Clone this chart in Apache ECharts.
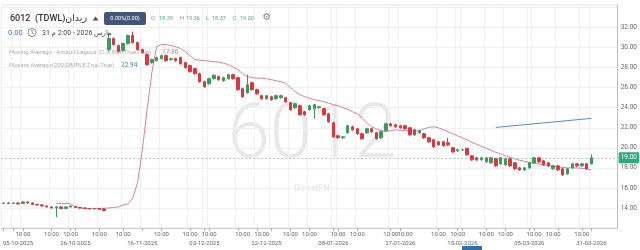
<!DOCTYPE html>
<html><head><meta charset="utf-8">
<script src="https://cdn.jsdelivr.net/npm/echarts@6/dist/echarts.min.js"></script>
<style>html,body{margin:0;padding:0;background:#fff}#c{width:640px;height:250px}</style>
</head><body><div id="c"></div>
<script>
// OHLC as [open, close, low, high]
const candles = [
[14.45,14.5,14.4,14.55],[14.5,14.45,14.4,14.55],[14.45,14.5,14.4,14.55],[14.5,14.4,14.35,14.55],[14.45,14.6,14.4,14.65],
[14.6,14.5,14.45,14.65],[14.5,14.35,14.3,14.55],[14.35,14.3,14.25,14.4],[14.3,14.2,14.15,14.35],[14.2,14.1,14.05,14.25],
[14.1,14.0,13.95,14.15],[14.0,14.1,13.1,14.2],[14.1,13.95,13.9,14.15],[13.95,14.1,13.9,14.15],[14.1,14.2,14.05,14.25],
[14.15,14.05,14.0,14.2],[14.05,14.0,13.95,14.1],[14.0,13.95,13.9,14.05],[13.95,13.9,13.85,14.0],[13.9,13.95,13.85,14.0],
[13.95,13.85,13.8,14.0],[13.9,13.75,13.7,13.95],
[29.8,30.9,29.6,31.5],[30.9,30.3,30.2,31.0],[30.2,29.6,29.5,30.3],[29.7,30.4,29.6,30.5],[30.4,31.2,30.3,31.3],
[31.2,30.5,30.4,31.6],[30.5,29.8,29.7,30.6],[29.8,29.5,29.4,29.9],[29.3,28.3,28.2,29.4],[28.5,28.8,28.4,28.9],
[28.7,29.0,28.6,29.1],[28.9,29.2,28.8,29.3],[29.2,28.7,28.6,29.3],[28.8,28.9,28.7,29.0],[28.9,28.7,28.6,29.0],
[29.0,28.4,28.3,29.1],[28.5,28.0,27.9,28.6],[28.2,27.6,27.5,28.3],[27.9,27.4,27.3,28.0],[27.4,26.6,26.5,27.5],
[26.6,26.1,26.0,26.7],[26.4,26.9,26.3,27.0],[26.9,27.25,26.8,27.3],[27.1,26.8,26.7,27.2],[26.7,27.0,26.6,27.1],
[26.9,27.3,26.8,27.4],[27.3,26.9,26.8,27.4],[27.0,25.8,25.7,27.1],[25.9,25.1,25.0,26.0],[25.5,26.3,25.4,27.3],
[26.5,25.8,25.7,26.6],[25.8,25.4,25.3,25.9],[25.2,24.9,24.8,25.3],[24.9,25.2,24.8,25.3],[25.1,24.8,24.7,25.2],
[24.9,25.2,24.8,25.3],[25.0,25.2,24.9,25.3],[25.0,24.6,24.5,25.1],[24.5,23.8,23.7,24.6],[24.0,24.4,23.9,24.5],
[24.2,23.3,23.2,24.3],[23.6,23.3,23.2,23.7],[23.8,24.2,23.7,24.3],[23.9,24.3,22.9,24.4],[24.0,24.1,23.9,24.2],
[23.9,23.3,23.2,24.0],[23.4,22.6,22.5,23.5],[22.5,21.1,21.0,22.6],[21.2,21.0,20.9,21.3],[21.0,21.1,20.9,21.2],
[21.5,22.2,21.4,22.3],[22.1,21.8,21.7,22.2],[21.9,21.4,21.3,22.0],[21.4,20.9,20.8,21.5],[21.5,21.9,21.4,22.0],
[21.9,21.6,21.5,22.0],[21.5,20.9,20.8,21.6],[21.0,21.6,20.9,21.7],[21.7,22.4,21.6,22.5],[22.4,22.2,22.1,22.5],
[22.3,22.1,22.0,22.4],[22.2,22.0,21.9,22.3],[22.2,21.9,21.8,22.3],[22.0,21.3,21.2,22.1],[21.8,21.3,21.2,21.9],
[21.5,21.7,21.4,21.8],[21.4,21.0,20.9,21.5],[21.0,20.6,20.5,21.1],[20.8,20.1,20.0,20.9],[20.6,20.3,20.2,20.7],
[20.6,20.2,20.1,20.7],[20.5,20.3,20.2,21.0],[20.0,19.6,19.5,20.1],[19.7,19.8,19.6,19.9],[19.8,19.8,19.7,19.9],
[19.95,19.3,19.2,20.0],[19.2,18.8,18.7,19.3],[19.0,18.8,18.7,19.1],[18.8,19.0,18.7,19.1],[18.6,19.0,18.5,19.1],
[18.5,19.0,18.4,19.1],[18.9,18.2,18.1,19.0],[18.4,19.0,18.3,19.1],[18.3,18.9,18.2,19.0],[18.9,18.2,18.1,19.0],
[18.5,17.9,17.8,18.6],[18.0,17.8,17.7,18.1],[17.8,18.0,17.7,18.1],[18.0,18.5,17.9,18.6],[18.5,19.0,18.4,19.1],
[19.0,18.6,18.5,19.1],[18.7,18.3,18.2,18.8],[18.5,18.2,18.1,18.6],[17.9,18.2,17.8,18.3],[18.2,17.8,17.7,18.3],
[17.9,17.3,17.2,18.0],[17.4,17.9,17.3,18.0],[18.0,18.4,17.9,18.5],[18.4,18.2,18.1,18.5],[18.2,18.4,18.1,18.5],
[18.4,17.9,17.8,18.5],[18.39,19.0,18.37,19.36]
];
// Arnaud Legoux moving average (pink)
const almaValues = [
null,null,null,null,null,null,null,null,null,null,null,
14.45,14.45,14.45,14.42,14.1,14.0,13.95,13.95,13.95,13.95,13.98,14.0,14.05,14.1,14.3,
14.4,15.0,16.5,19.8,23.8,27.5,30.1,30.3,30.3,30.2,30.1,29.9,29.6,29.2,28.8,28.75,
28.7,28.65,28.6,28.55,28.45,28.3,28.05,27.8,27.4,27.1,27.0,26.95,26.95,26.9,26.8,26.7,26.6,26.45,
26.0,25.6,25.3,25.1,24.95,24.8,24.7,24.6,24.45,24.3,24.2,24.0,23.85,23.6,23.4,23.0,22.5,22.1,21.9,21.7,
21.65,21.7,21.8,21.75,21.7,21.7,21.65,21.7,21.9,22.05,22.1,22.0,21.8,21.6,21.4,21.2,21.0,20.8,20.55,20.35,
20.15,19.95,19.75,19.55,19.4,19.2,19.05,18.9,18.75,18.65,18.55,18.45,18.4,18.3,18.25,18.2,18.1,18.05,18.0,18.0,
18.0,17.95,17.9,17.8
];
// 200 simple moving average (blue), starts at index 103
const smaStart = 103;
const smaValues = [22.04,22.08,22.13,22.17,22.22,22.26,22.31,22.35,22.40,22.44,22.49,22.53,22.58,22.62,22.67,22.71,22.76,22.80,22.85,22.89,22.94];
const padCount = 5;
const timeTickIdx = [0,2,4,10,14,15,20,25,29,33,39,42,43,49,53,56,60,64,69,70,74,81,83,91,95,96,101,105,110,111,116,121,123];
const timeLabelIdx = [1,4,10,14,20,25,33,39,43,50,54,60,64,70,74,81,84,91,95,101,105,111,115,121];
const timeLabelText = '10:00';
const dateLabelIdx = [3,15,29,42,55,69,83,96,110,123];
const dateLabels = ['05-10-2025','26-10-2025','16-11-2025','03-12-2025','22-12-2025','08-01-2026','27-01-2026','15-02-2026','05-03-2026','31-03-2026'];
const lastClose = 19.00, almaLast = 17.80, smaLast = 22.94;
const ohlc = {O:'18.39',H:'19.36',L:'18.37',C:'19.00'};

const total = candles.length + padCount;
const categories = Array.from({length: total}, (_, i) => String(i));
const smaSeries = categories.map((_, i) => (i >= smaStart && i - smaStart < smaValues.length) ? smaValues[i - smaStart] : null);
const almaSeries = categories.map((_, i) => i < almaValues.length ? almaValues[i] : null);
const tickSet = new Set(timeTickIdx), labSet = new Set(timeLabelIdx), dateSet = new Set(dateLabelIdx);
const FONT = 'Roboto, "Open Sans", "DejaVu Sans", sans-serif';

const chart = echarts.init(document.getElementById('c'), null, {renderer:'canvas'});
function badge(val, bg){
  return {yAxis: val, label:{show:true, position:'end', distance:1, formatter: val.toFixed(2), color:'#fff', backgroundColor:bg, fontSize:6.5, fontFamily:FONT, padding:[2,2,2,2], borderRadius:1}};
}
chart.setOption({
  animation:false,
  textStyle:{fontFamily:FONT},
  grid:{left:0, right:20, top:5, bottom:22, show:true, borderColor:'#e4e4e4', borderWidth:1},
  xAxis:[{
    type:'category', data:categories, boundaryGap:true,
    axisLine:{show:true, lineStyle:{color:'#cfcfcf'}},
    axisTick:{show:true, alignWithLabel:true, length:3, lineStyle:{color:'#aaa'}, interval:(i)=>tickSet.has(i)},
    axisLabel:{show:true, interval:(i)=>labSet.has(i), formatter:()=>timeLabelText, fontSize:6, color:'#666', margin:3, hideOverlap:false, fontFamily:FONT},
    splitLine:{show:true, interval:(i)=>tickSet.has(i), lineStyle:{color:'#f0f0f0'}}
  },{
    type:'category', data:categories, boundaryGap:true, position:'bottom', offset:9,
    axisLine:{show:false}, axisTick:{show:false}, splitLine:{show:false},
    axisLabel:{show:true, interval:(i)=>dateSet.has(i), formatter:(v,i)=>{const k=dateLabelIdx.indexOf(i);return k>=0?dateLabels[k]:'';}, fontSize:6, color:'#666', margin:3, hideOverlap:false, fontFamily:FONT}
  }],
  yAxis:{
    type:'value', position:'right', min:12, max:34.25, interval:2, scale:false,
    axisLine:{show:true, lineStyle:{color:'#bdbdbd'}},
    axisTick:{show:false},
    axisLabel:{fontSize:6.5, color:'#666', margin:3, showMaxLabel:false, fontFamily:FONT,
      formatter:(v)=> (v<13||v>33)?'':v.toFixed(2)},
    splitLine:{show:true, lineStyle:{color:'#efefef'}}
  },
  graphic:[
    {type:'text', z:0, silent:true, style:{x:312, y:138, text:'6012', fontSize:76, fontWeight:300, fontFamily:FONT, fill:'#e8e8e8', align:'center', verticalAlign:'middle'}},
    {type:'text', z:0, silent:true, style:{x:312, y:189, text:'DirectFN', fontSize:9, fontWeight:'bold', fontFamily:FONT, fill:'#e8e8e8', align:'center', verticalAlign:'middle'}},
    {type:'text', z:0, style:{x:9, y:52, text:'Moving Average - Arnaud Legoux(21,0.85,6,True,True)', fontSize:6, fontFamily:FONT, fill:'#ababab', verticalAlign:'middle'}},
    {type:'text', z:0, style:{x:162, y:52, text:almaLast.toFixed(2), fontSize:6.5, fontFamily:FONT, fill:'#d9708c', verticalAlign:'middle'}},
    {type:'text', z:0, style:{x:9, y:65, text:'Moving Average(200,SIMPLE,True,True)', fontSize:6, fontFamily:FONT, fill:'#ababab', verticalAlign:'middle'}},
    {type:'text', z:0, style:{x:121, y:65, text:smaLast.toFixed(2), fontSize:6.5, fontFamily:FONT, fill:'#3f7fb5', verticalAlign:'middle'}},
    {type:'text', z:50, style:{x:10, y:19, text:'6012', fontSize:9, fontWeight:500, fontFamily:FONT, fill:'#333', verticalAlign:'middle'}},
    {type:'text', z:50, style:{x:35, y:19, text:'(TDWL)', fontSize:9, fontWeight:500, fontFamily:FONT, fill:'#333', verticalAlign:'middle'}},
    {type:'text', z:50, style:{x:87, y:19, text:'ريدان', fontSize:9.5, fontFamily:'"DejaVu Sans", "Noto Sans", sans-serif', fill:'#333', align:'right', verticalAlign:'middle'}},
    {type:'polygon', z:50, shape:{points:[[92.5,20.5],[95.5,16.5],[98.5,20.5]]}, style:{fill:'#555'}},
    {type:'rect', z:50, shape:{x:104, y:12, width:42, height:13, r:2}, style:{fill:'#44557a'}},
    {type:'text', z:51, style:{x:125, y:18.5, text:'0.00%(0.00)', fontSize:5.5, fontFamily:FONT, fill:'#fff', align:'center', verticalAlign:'middle'}},
    {type:'text', z:50, style:{x:151, y:19, text:'O', fontSize:5.5, fontFamily:FONT, fill:'#8a8a8a', verticalAlign:'middle'}},
    {type:'text', z:50, style:{x:159, y:19, text:ohlc.O, fontSize:5.5, fontFamily:FONT, fill:'#4caf7d', verticalAlign:'middle'}},
    {type:'text', z:50, style:{x:180, y:19, text:'H', fontSize:5.5, fontFamily:FONT, fill:'#8a8a8a', verticalAlign:'middle'}},
    {type:'text', z:50, style:{x:186, y:19, text:ohlc.H, fontSize:5.5, fontFamily:FONT, fill:'#4caf7d', verticalAlign:'middle'}},
    {type:'text', z:50, style:{x:206, y:19, text:'L', fontSize:5.5, fontFamily:FONT, fill:'#8a8a8a', verticalAlign:'middle'}},
    {type:'text', z:50, style:{x:212, y:19, text:ohlc.L, fontSize:5.5, fontFamily:FONT, fill:'#4caf7d', verticalAlign:'middle'}},
    {type:'text', z:50, style:{x:233, y:19, text:'C', fontSize:5.5, fontFamily:FONT, fill:'#8a8a8a', verticalAlign:'middle'}},
    {type:'text', z:50, style:{x:240, y:19, text:ohlc.C, fontSize:5.5, fontFamily:FONT, fill:'#4caf7d', verticalAlign:'middle'}},
    {type:'text', z:50, style:{x:267, y:17.5, text:'⚙', fontSize:10, fontFamily:'"DejaVu Sans", sans-serif', fill:'#8a8a8a', align:'center', verticalAlign:'middle'}},
    {type:'text', z:50, style:{x:8, y:33, text:'0.00', fontSize:7.5, fontFamily:FONT, fill:'#2f7cd0', verticalAlign:'middle'}},
    {type:'circle', z:50, shape:{cx:32, cy:32.5, r:4}, style:{fill:'none', stroke:'#666', lineWidth:0.8}},
    {type:'polyline', z:50, shape:{points:[[32,30],[32,32.5],[34,33.8]]}, style:{stroke:'#666', lineWidth:0.8, fill:'none'}},
    {type:'text', z:50, style:{x:42, y:33, text:'31 مارس 2026 - 2:00 م', fontSize:7, fontFamily:FONT, fill:'#444', verticalAlign:'middle'}},
    {type:'rect', z:50, shape:{x:462, y:246, width:20, height:4}, style:{fill:'#2d6fb7'}}
  ],
  series:[
    {type:'candlestick', name:'price', data:candles, barWidth:3, z:5,
      itemStyle:{color:'#3b9a5e', color0:'#d8383f', borderColor:'#3b9a5e', borderColor0:'#d8383f', borderWidth:1},
      markLine:{silent:true, symbol:['none','none'], animation:false,
        lineStyle:{color:'#bbb', type:[2,2], width:1},
        data:[badge(lastClose,'#2ea87d')]}
    },
    {type:'line', name:'alma', data:almaSeries, showSymbol:false, symbol:'none', z:4,
      lineStyle:{color:'#d9809a', width:1}, connectNulls:false,
      markLine:{silent:true, symbol:['none','none'], animation:false, lineStyle:{opacity:0},
        data:[badge(almaLast,'#e2466b')]}
    },
    {type:'line', name:'sma', data:smaSeries, showSymbol:false, symbol:'none', z:4,
      lineStyle:{color:'#5588b8', width:1},
      markLine:{silent:true, symbol:['none','none'], animation:false, lineStyle:{opacity:0},
        data:[badge(smaLast,'#2d6db0')]}
    }
  ]
});
</script></body></html>
